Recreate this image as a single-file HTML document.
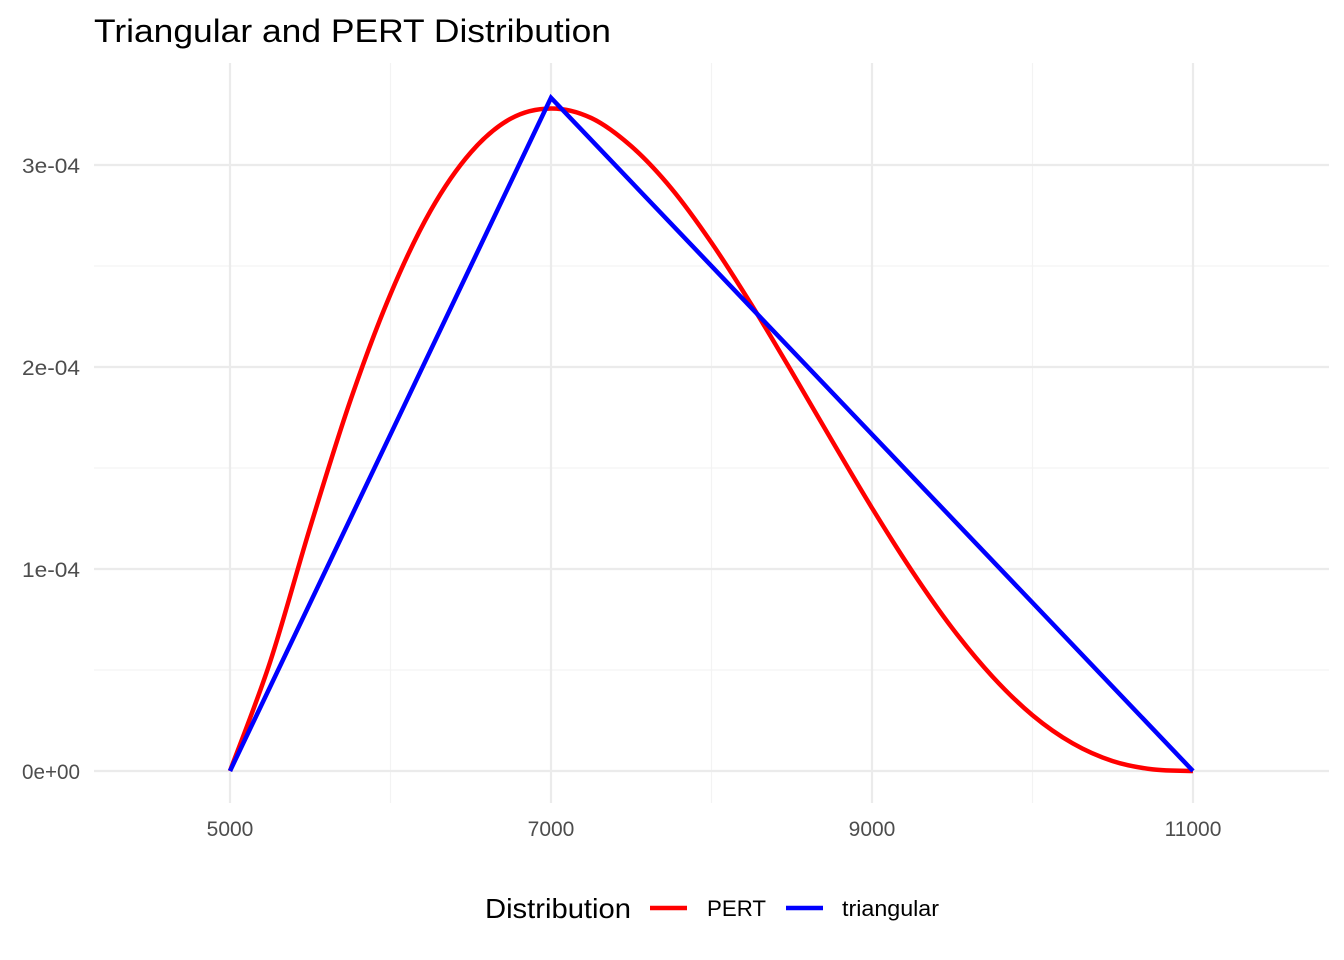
<!DOCTYPE html>
<html><head><meta charset="utf-8"><style>
html,body{margin:0;padding:0;background:#fff;}
svg{display:block;font-family:"Liberation Sans",sans-serif;}
</style></head><body>
<svg id="chart" width="1344" height="960" viewBox="0 0 1344 960">
<rect width="1344" height="960" fill="#fff"/>
<text x="94" y="42" font-size="32" fill="#000" textLength="517" lengthAdjust="spacingAndGlyphs">Triangular and PERT Distribution</text>
<g id="grid"></g>
<g id="yticks"></g>
<g id="xticks"></g>
<g id="series"></g>
<g>
<text x="485" y="918" font-size="28" fill="#000" textLength="146" lengthAdjust="spacingAndGlyphs">Distribution</text>
<line x1="650" y1="908" x2="687" y2="908" stroke="#ff0000" stroke-width="4.5"/>
<text x="707" y="916" font-size="22" fill="#000" textLength="59" lengthAdjust="spacingAndGlyphs">PERT</text>
<line x1="786" y1="908" x2="823" y2="908" stroke="#0000ff" stroke-width="4.5"/>
<text x="842" y="916" font-size="22" fill="#000" textLength="97" lengthAdjust="spacingAndGlyphs">triangular</text>
</g>
</svg>
<script>
const xMajor = [5000, 7000, 9000, 11000];
const xMinor = [6000, 8000, 10000];
const yMajor = [0, 1e-4, 2e-4, 3e-4];
const yMajorLabels = ["0e+00", "1e-04", "2e-04", "3e-04"];
const yMinor = [0.5e-4, 1.5e-4, 2.5e-4];
const pertX = [5000, 5250, 5500, 5750, 6000, 6250, 6500, 6750, 7000, 7250, 7500, 7750, 8000, 8250, 8500, 8750, 9000, 9250, 9500, 9750, 10000, 10250, 10500, 10750, 11000];
const pertY = [0, 0.540e-4, 1.208e-4, 1.834e-4, 2.361e-4, 2.774e-4, 3.062e-4, 3.230e-4, 3.28e-4, 3.233e-4, 3.093e-4, 2.884e-4, 2.615e-4, 2.307e-4, 1.976e-4, 1.636e-4, 1.302e-4, 0.989e-4, 0.707e-4, 0.468e-4, 0.276e-4, 0.137e-4, 0.049e-4, 0.008e-4, 0];
const triX = [5000, 7000, 11000];
const triY = [0, 3.333e-4, 0];

const NS = "http://www.w3.org/2000/svg";
const X = v => 230 + (v - 5000) * 0.1605;
const Y = v => 771 - v * 2020000;
const PL = 94, PR = 1329, PT = 63, PB = 803;
function mk(tag, attrs, parent) {
  const e = document.createElementNS(NS, tag);
  for (const k in attrs) e.setAttribute(k, attrs[k]);
  parent.appendChild(e);
  return e;
}
const grid = document.getElementById('grid');
yMinor.forEach(v => {
  const l = mk('line', {x1: PL, x2: PR, y1: Y(v), y2: Y(v), stroke: '#f3f3f3', 'stroke-width': 1.2}, grid);
  
  
});
xMinor.forEach(v => {
  const l = mk('line', {x1: X(v), x2: X(v), y1: PT, y2: PB, stroke: '#f3f3f3', 'stroke-width': 1.2}, grid);
  
  
});
yMajor.forEach(v => {
  const l = mk('line', {x1: PL, x2: PR, y1: Y(v), y2: Y(v), stroke: '#ebebeb', 'stroke-width': 2.2}, grid);
  
  
});
xMajor.forEach(v => {
  const l = mk('line', {x1: X(v), x2: X(v), y1: PT, y2: PB, stroke: '#ebebeb', 'stroke-width': 2.2}, grid);
  
  
});
const yt = document.getElementById('yticks');
yMajor.forEach((v, i) => {
  const t = mk('text', {x: 80, y: Y(v) + 8, 'text-anchor': 'end', 'font-size': 21, fill: '#4d4d4d', textLength: 58, lengthAdjust: 'spacingAndGlyphs'}, yt);
  t.textContent = yMajorLabels[i];
  
  
});
const xt = document.getElementById('xticks');
xMajor.forEach(v => {
  const t = mk('text', {x: X(v), y: 836, 'text-anchor': 'middle', 'font-size': 21, fill: '#4d4d4d'}, xt);
  t.textContent = String(v);
  
  
});
function smoothPath(xs, ys) {
  const p = xs.map((x, i) => [X(x), Y(ys[i])]);
  let d = `M${p[0][0]},${p[0][1]}`;
  for (let i = 0; i < p.length - 1; i++) {
    const p0 = p[Math.max(0, i - 1)], p1 = p[i], p2 = p[i + 1], p3 = p[Math.min(p.length - 1, i + 2)];
    const c1 = [p1[0] + (p2[0] - p0[0]) / 6, p1[1] + (p2[1] - p0[1]) / 6];
    const c2 = [p2[0] - (p3[0] - p1[0]) / 6, p2[1] - (p3[1] - p1[1]) / 6];
    d += ` C${c1[0]},${c1[1]} ${c2[0]},${c2[1]} ${p2[0]},${p2[1]}`;
  }
  return d;
}
const sg = document.getElementById('series');
const pert = mk('path', {d: smoothPath(pertX, pertY), fill: 'none', stroke: '#ff0000', 'stroke-width': 4.5, 'stroke-linejoin': 'round'}, sg);


const tri = mk('polyline', {points: triX.map((x, i) => X(x) + ',' + Y(triY[i])).join(' '), fill: 'none', stroke: '#0000ff', 'stroke-width': 4.5, 'stroke-linejoin': 'miter'}, sg);


</script>
</body></html>
